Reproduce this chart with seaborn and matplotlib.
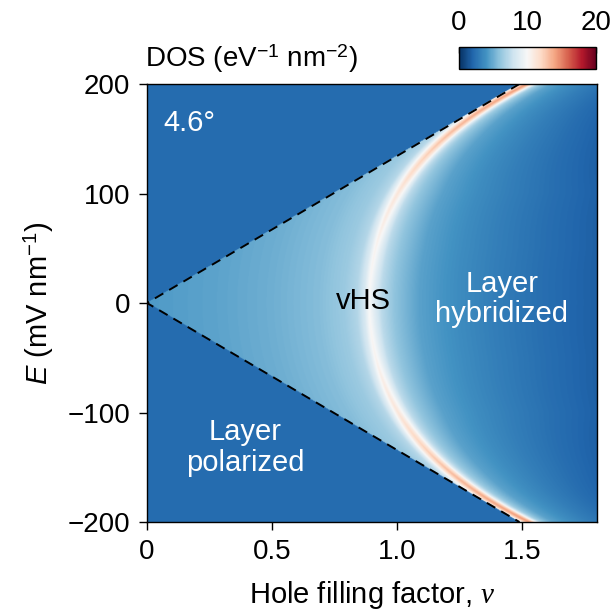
import numpy as np
import matplotlib
matplotlib.use("Agg")
import matplotlib.pyplot as plt
import seaborn as sns

# vHS ridge (symmetric in E)
E_knots = np.array([0, 50, 100, 150, 175, 200])
nu_vhs_knots = np.array([0.89, 0.91, 1.01, 1.19, 1.33, 1.53])
width_knots = np.array([1.0, 0.98, 0.9, 0.7, 0.58, 0.48])
peak_extra_knots = np.array([0.0, 0.4, 1.3, 3.0, 3.8, 4.4])

# DOS profile across the ridge at E = 0 (offset = nu - nu_vhs)
offset_knots = np.array([-0.9, -0.6, -0.4, -0.2, -0.1, -0.05, -0.02, 0.0,
                         0.02, 0.05, 0.1, 0.2, 0.36, 0.5, 0.7, 0.95])
profile_dos = np.array([4.3, 4.7, 5.1, 5.7, 6.3, 7.0, 8.2, 10.0,
                        8.8, 7.3, 6.0, 4.6, 3.7, 3.1, 2.4, 1.7])

# layer polarized region outside the cone
polarized_dos = 2.3

# dashed cone boundary
cone_nu = [1.49, 0.0, 1.49]
cone_E = [200, 0, -200]

x_ticks = [0, 0.5, 1.0, 1.5]
x_ticklabels = ["0", "0.5", "1.0", "1.5"]
y_ticks = [-200, -100, 0, 100, 200]
cbar_ticks = [0, 10, 20]


def build_map(nu, E):
    NU, EE = np.meshgrid(nu, E)
    aE = np.abs(EE)
    # smooth ridge position from the read knots
    c = np.polyfit((E_knots / 200.0) ** 2, nu_vhs_knots, 2)
    ridge = np.polyval(c, (aE / 200.0) ** 2)
    w = np.interp(aE, E_knots, width_knots)
    extra = np.interp(aE, E_knots, peak_extra_knots)
    d = NU - ridge
    d_eff = np.where(d > 0, d / w, d)
    dos = np.interp(d_eff, offset_knots, profile_dos)
    dos = dos + extra / (1.0 + (d / 0.03) ** 4)
    slope = cone_nu[0] / cone_E[0]
    dos = np.where(NU < slope * aE, polarized_dos, dos)
    return dos


def main():
    sns.set_theme(style="ticks")
    plt.rcParams["font.family"] = ["Liberation Sans", "DejaVu Sans"]
    plt.rcParams["mathtext.fontset"] = "custom"
    plt.rcParams["mathtext.rm"] = "Liberation Sans"
    plt.rcParams["mathtext.it"] = "Liberation Serif:italic"
    plt.rcParams["mathtext.sf"] = "Liberation Sans:italic"

    nu = np.linspace(0, 1.8, 720)
    E = np.linspace(-200, 200, 800)
    dos = build_map(nu, E)

    fig = plt.figure(figsize=(6.15, 6.14), dpi=100)
    ax = fig.add_axes([0.239, 0.1498, 0.7317, 0.7134])
    cmap = sns.color_palette("RdBu_r", as_cmap=True)
    im = ax.imshow(dos, extent=[0, 1.8, -200, 200], origin="lower",
                   aspect="auto", cmap=cmap, vmin=0, vmax=20,
                   interpolation="bilinear")
    ax.plot(cone_nu, cone_E, color="black", lw=1.4, ls=(0, (5, 3.5)))

    ax.set_xlim(0, 1.8)
    ax.set_ylim(-200, 200)
    ax.set_xticks(x_ticks)
    ax.set_xticklabels(x_ticklabels)
    ax.set_yticks(y_ticks)
    ax.tick_params(labelsize=20, length=6, width=1, color="black",
                   labelcolor="black", pad=6)
    for s in ax.spines.values():
        s.set_color("black")
        s.set_linewidth(1)
    ax.set_xlabel(r"Hole filling factor, $\nu$", fontsize=21, labelpad=10,
                  color="black")
    ax.set_ylabel(r"$\mathsf{E}$ (mV nm$^{-1}$)", fontsize=21, labelpad=8,
                  color="black")

    ax.text(0.064, 164, "4.6°", color="white", fontsize=21,
            ha="left", va="center")
    ax.text(0.866, 2, "vHS", color="black", fontsize=21,
            ha="center", va="center")
    ax.text(1.42, 4, "Layer\nhybridized", color="white", fontsize=21,
            ha="center", va="center", linespacing=1.1)
    ax.text(0.393, -132, "Layer\npolarized", color="white", fontsize=21,
            ha="center", va="center", linespacing=1.1)

    cax = fig.add_axes([0.746, 0.8876, 0.223, 0.0358])
    cb = fig.colorbar(im, cax=cax, orientation="horizontal", ticks=cbar_ticks)
    cax.xaxis.set_ticks_position("top")
    cax.xaxis.set_label_position("top")
    cax.tick_params(labelsize=20, length=4, width=1, color="black",
                    labelcolor="black", pad=8, direction="in")
    cb.outline.set_edgecolor("black")
    cb.outline.set_linewidth(1)

    fig.text(0.235, 1 - 75 / 614, r"DOS (eV$^{-1}$ nm$^{-2}$)", fontsize=20,
             ha="left", va="bottom", color="black")

    fig.savefig("out.png", dpi=100)


if __name__ == "__main__":
    main()
